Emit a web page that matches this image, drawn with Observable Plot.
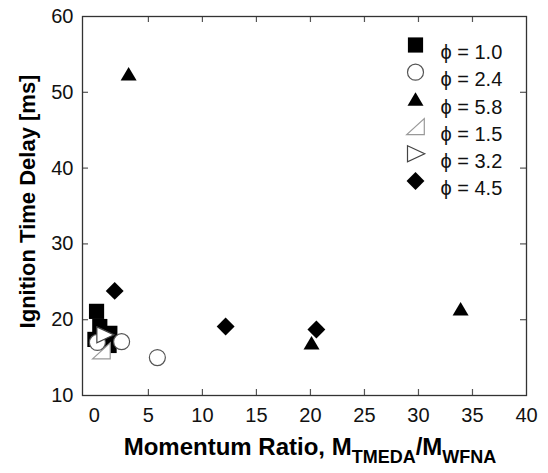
<!DOCTYPE html>
<html><head><meta charset="utf-8">
<script src="https://cdn.jsdelivr.net/npm/d3@7"></script>
<script src="https://cdn.jsdelivr.net/npm/@observablehq/plot@0.6"></script>
<style>body{margin:0;background:#fff}</style>
</head><body><div id="chart"></div>
<script>
// ---- data ----
const seriesLabels = ["ϕ = 1.0", "ϕ = 2.4", "ϕ = 5.8", "ϕ = 1.5", "ϕ = 3.2", "ϕ = 4.5"];
const phi10X = [0.2, 0.5, 1.43, 0.05, 1.36];
const phi10Y = [21.1, 19.1, 18.2, 17.4, 16.6];
const phi24X = [0.28, 2.52, 5.83];
const phi24Y = [17.0, 17.1, 15.0];
const phi58X = [3.17, 20.1, 33.9];
const phi58Y = [52.4, 16.9, 21.4];
const phi15X = [0.65];
const phi15Y = [15.9];
const phi32X = [0.97];
const phi32Y = [18.0];
const phi45X = [1.88, 12.15, 20.55];
const phi45Y = [23.8, 19.1, 18.7];
const xTicks = [0, 5, 10, 15, 20, 25, 30, 35, 40];
const yTicks = [10, 20, 30, 40, 50, 60];

// ---- symbols ----
const R = s => Math.sqrt(s / Math.PI);
const symSquare = {draw(c, s){const r = R(s)*0.95; c.rect(-r, -r, 2*r, 2*r);}};
const symCircle = {draw(c, s){const r = R(s); c.moveTo(r, 0); c.arc(0, 0, r, 0, 2*Math.PI);}};
const symTriUp = {draw(c, s){const r = R(s); c.moveTo(0, -0.9*r); c.lineTo(r, 0.8*r); c.lineTo(-r, 0.8*r); c.closePath();}};
const symRightTri = {draw(c, s){const r = R(s); c.moveTo(-1.1*r, r); c.lineTo(1.1*r, r); c.lineTo(1.1*r, -r); c.closePath();}};
const symTriRight = {draw(c, s){const r = R(s); c.moveTo(-r, -r); c.lineTo(1.15*r, 0); c.lineTo(-r, r); c.closePath();}};
const symDiamond = {draw(c, s){const r = R(s)*1.12; c.moveTo(0, -r); c.lineTo(r, 0); c.lineTo(0, r); c.lineTo(-r, 0); c.closePath();}};

const styles = [
  {symbol: symSquare, fill: "#000", stroke: "none"},
  {symbol: symCircle, fill: "#fff", stroke: "#555", strokeWidth: 1.2},
  {symbol: symTriUp, fill: "#000", stroke: "none"},
  {symbol: symRightTri, fill: "#fff", stroke: "#999", strokeWidth: 1.2},
  {symbol: symTriRight, fill: "#fff", stroke: "#444", strokeWidth: 1.2},
  {symbol: symDiamond, fill: "#000", stroke: "none"}
];
const seriesX = [phi10X, phi24X, phi58X, phi15X, phi32X, phi45X];
const seriesY = [phi10Y, phi24Y, phi58Y, phi15Y, phi32Y, phi45Y];

const W = 548, H = 473, mL = 82, mR = 22, mT = 16, mB = 78;
const pw = W - mL - mR, ph = H - mT - mB;
const tickLen = 6;
const font = "'Liberation Sans', Arial, sans-serif";

const marks = [];
// inward ticks on all four sides
marks.push(Plot.tickX(xTicks.slice(1, -1), {x: d => d, insetTop: ph - tickLen, stroke: "#555", strokeWidth: 1.2}));
marks.push(Plot.tickX(xTicks.slice(1, -1), {x: d => d, insetBottom: ph - tickLen, stroke: "#555", strokeWidth: 1.2}));
marks.push(Plot.tickY(yTicks.slice(1, -1), {y: d => d, insetRight: pw - tickLen, stroke: "#555", strokeWidth: 1.2}));
marks.push(Plot.tickY(yTicks.slice(1, -1), {y: d => d, insetLeft: pw - tickLen, stroke: "#555", strokeWidth: 1.2}));
marks.push(Plot.axisX(xTicks, {tickSize: 0, tickPadding: 12, fontSize: 20, fill: "#111", label: null}));
marks.push(Plot.axisY(yTicks, {tickSize: 0, tickPadding: 9, fontSize: 20, fill: "#111", label: null}));
marks.push(Plot.frame({stroke: "#333", strokeWidth: 1.3}));

// data points
seriesX.forEach((xs, k) => {
  const rows = xs.map((x, i) => ({x, y: seriesY[k][i]}));
  marks.push(Plot.dot(rows, {x: "x", y: "y", r: 8, ...styles[k]}));
});

// legend
seriesLabels.forEach((lab, k) => {
  const dy = 28.5 + k * 27.2;
  marks.push(Plot.dot([lab], {frameAnchor: "top-right", dx: -111, dy, r: 8, ...styles[k]}));
  marks.push(Plot.text([lab], {text: d => d, frameAnchor: "top-right", dx: -86, dy, textAnchor: "start", fontSize: 20, fill: "#111"}));
});

const plot = Plot.plot({
  width: W, height: H,
  marginLeft: mL, marginRight: mR, marginTop: mT, marginBottom: mB,
  style: {fontFamily: font, background: "#fff", color: "#111"},
  x: {domain: [-1.1, 40]},
  y: {domain: [10, 60]},
  marks
});

const svg = d3.select(plot);
// x axis label with subscripts
const xl = svg.append("text")
  .attr("x", mL + pw / 2 + 6).attr("y", H - 18)
  .attr("text-anchor", "middle")
  .attr("font-family", font).attr("font-weight", "bold").attr("font-size", 24).attr("fill", "#000");
xl.append("tspan").text("Momentum Ratio, M");
xl.append("tspan").attr("font-size", 18).attr("dy", 8).text("TMEDA");
xl.append("tspan").attr("font-size", 24).attr("dy", -8).text("/M");
xl.append("tspan").attr("font-size", 18).attr("dy", 8).text("WFNA");
// y axis label
svg.append("text")
  .attr("transform", `translate(35,${mT + ph / 2 - 4}) rotate(-90)`)
  .attr("text-anchor", "middle")
  .attr("font-family", font).attr("font-weight", "bold").attr("font-size", 22).attr("fill", "#000")
  .text("Ignition Time Delay [ms]");

document.getElementById("chart").appendChild(plot);
</script>
</body></html>
